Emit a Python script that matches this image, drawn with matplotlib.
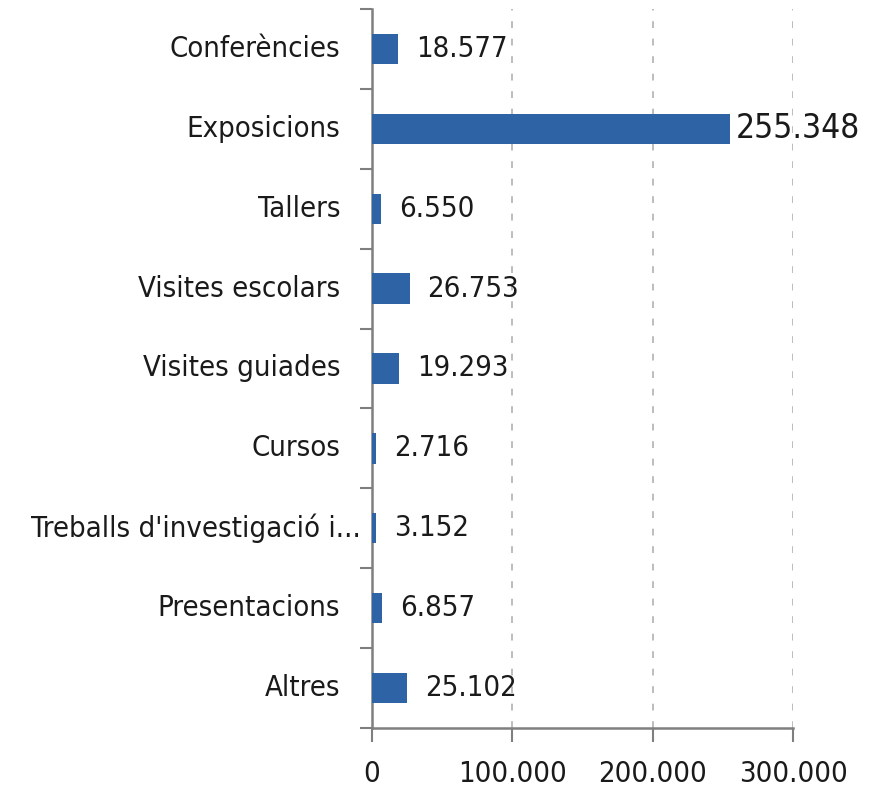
import matplotlib
matplotlib.use("Agg")
import matplotlib.pyplot as plt
from matplotlib.ticker import FuncFormatter

categories = ["Conferències", "Exposicions", "Tallers", "Visites escolars",
              "Visites guiades", "Cursos", "Treballs d'investigació i...",
              "Presentacions", "Altres"]
values = [18577, 255348, 6550, 26753, 19293, 2716, 3152, 6857, 25102]
xticks = [0, 100000, 200000, 300000]

plt.rcParams['font.family'] = ['DejaVu Sans']
plt.rcParams['font.stretch'] = 'condensed'

def fmt(v):
    return f"{int(v):,}".replace(",", ".")

fig = plt.figure(figsize=(8.8, 7.97), dpi=100)
ax = fig.add_axes([372/880, 1-728/797, (793-372)/880, (728-9)/797])

ypos = list(range(len(categories)))
ax.barh(ypos, values, height=0.38, color="#2E64A6", zorder=3)
ax.set_ylim(len(categories)-0.5, -0.5)
ax.set_xlim(0, 300000)

for y, v in zip(ypos, values):
    big = v == max(values)
    ax.annotate(fmt(v), (v, y), xytext=(4 if big else 13, 0), textcoords="offset points",
                va="center", ha="left", fontsize=24 if big else 21,
                color="#1a1a1a", stretch="condensed")

ax.set_yticks(ypos)
ax.set_yticklabels([])
for y, c in zip(ypos, categories):
    off = -8 if c.endswith("...") else -23
    ax.annotate(c, (0, y), xytext=(off, 0), textcoords="offset points",
                va="center", ha="right", fontsize=21, color="#1a1a1a",
                stretch="condensed", annotation_clip=False)
ax.set_yticks([i-0.5 for i in range(len(categories)+1)], minor=True)
ax.tick_params(axis="y", which="major", length=0)
ax.tick_params(axis="y", which="minor", length=9, width=1.5, color="#7f7f7f")

ax.set_xticks(xticks)
ax.xaxis.set_major_formatter(FuncFormatter(lambda v, p: fmt(v)))
ax.tick_params(axis="x", length=10, width=1.5, color="#7f7f7f", labelsize=21,
               labelcolor="#1a1a1a", pad=13)

ax.grid(axis="x", linestyle=(0, (3.5, 5.5)), color="#bdbdbd", linewidth=1.4, zorder=0)
for s in ["top", "right"]:
    ax.spines[s].set_visible(False)
for s in ["left", "bottom"]:
    ax.spines[s].set_color("#7f7f7f")
    ax.spines[s].set_linewidth(1.8)

fig.savefig("out.png", dpi=100)
